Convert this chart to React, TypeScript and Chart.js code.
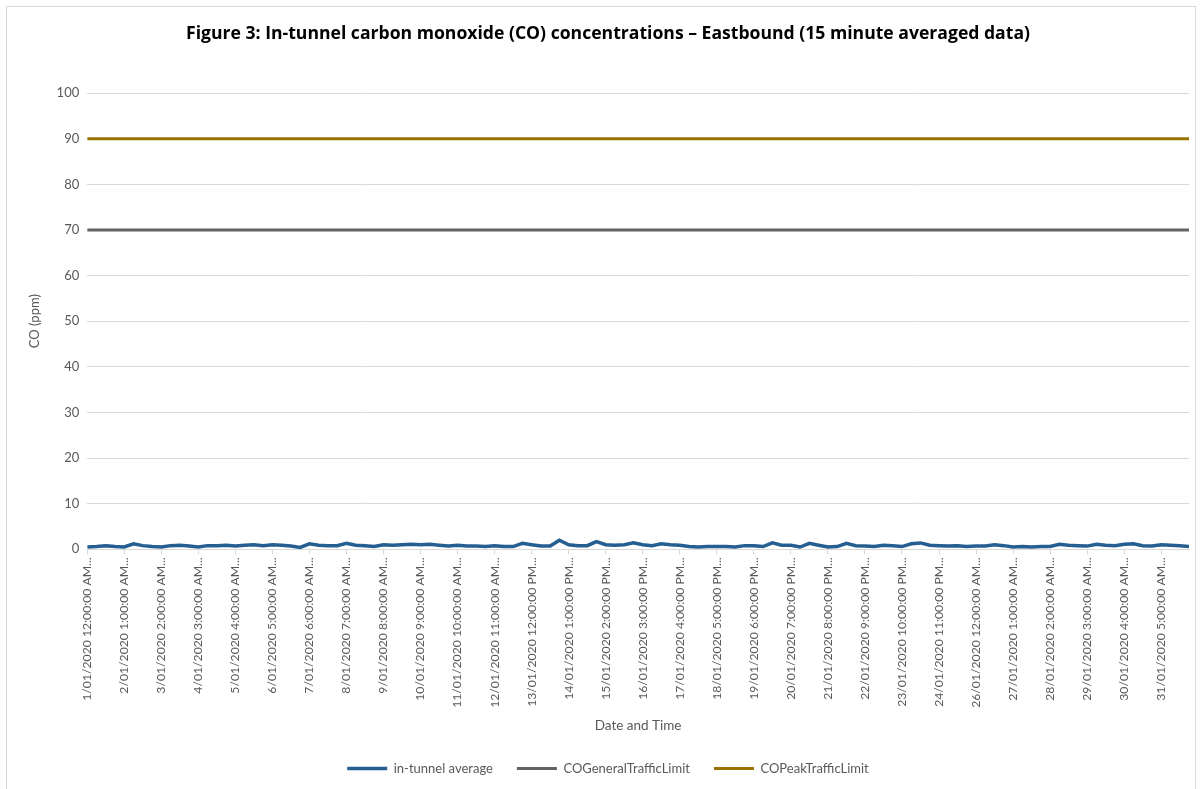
import { useEffect, useRef } from "react";
import { Chart, registerables } from "chart.js";

Chart.register(...registerables);

// Tick labels every 100 quarter-hour readings (25 hours)
const TICK_LABELS = [
  "1/01/2020 12:00:00 AM...",
  "2/01/2020 1:00:00 AM...",
  "3/01/2020 2:00:00 AM...",
  "4/01/2020 3:00:00 AM...",
  "5/01/2020 4:00:00 AM...",
  "6/01/2020 5:00:00 AM...",
  "7/01/2020 6:00:00 AM...",
  "8/01/2020 7:00:00 AM...",
  "9/01/2020 8:00:00 AM...",
  "10/01/2020 9:00:00 AM...",
  "11/01/2020 10:00:00 AM...",
  "12/01/2020 11:00:00 AM...",
  "13/01/2020 12:00:00 PM...",
  "14/01/2020 1:00:00 PM...",
  "15/01/2020 2:00:00 PM...",
  "16/01/2020 3:00:00 PM...",
  "17/01/2020 4:00:00 PM...",
  "18/01/2020 5:00:00 PM...",
  "19/01/2020 6:00:00 PM...",
  "20/01/2020 7:00:00 PM...",
  "21/01/2020 8:00:00 PM...",
  "22/01/2020 9:00:00 PM...",
  "23/01/2020 10:00:00 PM...",
  "24/01/2020 11:00:00 PM...",
  "26/01/2020 12:00:00 AM...",
  "27/01/2020 1:00:00 AM...",
  "28/01/2020 2:00:00 AM...",
  "29/01/2020 3:00:00 AM...",
  "30/01/2020 4:00:00 AM...",
  "31/01/2020 5:00:00 AM...",
];
const TICK_STEP = 100; // readings between labels
const LAST_READING = 2975; // 31 days x 96 readings - 1
const SAMPLE_STEP = 25; // readings between sampled values below

// In-tunnel average CO (ppm), every 25 readings
const IN_TUNNEL_AVERAGE = [
  0.5, 0.6, 0.8, 0.6, 0.5, 1.2, 0.8, 0.6, 0.5, 0.8, 0.9, 0.7, 0.5, 0.8, 0.8, 0.9, 0.7, 0.9, 1.0, 0.8,
  1.0, 0.9, 0.7, 0.4, 1.2, 0.9, 0.8, 0.8, 1.3, 0.9, 0.8, 0.6, 1.0, 0.9, 1.0, 1.1, 1.0, 1.1, 0.9, 0.7,
  0.9, 0.7, 0.7, 0.6, 0.8, 0.6, 0.6, 1.3, 1.0, 0.7, 0.7, 2.0, 1.0, 0.8, 0.8, 1.7, 1.0, 0.9, 1.0, 1.4,
  1.0, 0.8, 1.2, 1.0, 0.9, 0.6, 0.5, 0.6, 0.6, 0.6, 0.5, 0.8, 0.8, 0.6, 1.4, 0.9, 0.9, 0.5, 1.3, 0.9,
  0.5, 0.6, 1.3, 0.8, 0.7, 0.6, 0.9, 0.8, 0.6, 1.2, 1.4, 0.9, 0.8, 0.7, 0.8, 0.6, 0.7, 0.7, 1.0, 0.8,
  0.5, 0.6, 0.5, 0.6, 0.6, 1.1, 0.9, 0.8, 0.7, 1.1, 0.9, 0.8, 1.1, 1.2, 0.8, 0.7, 1.0, 0.9, 0.8, 0.6,
];
const CO_GENERAL_TRAFFIC_LIMIT = 70;
const CO_PEAK_TRAFFIC_LIMIT = 90;

const TITLE = "Figure 3: In-tunnel carbon monoxide (CO) concentrations \u2013 Eastbound (15 minute averaged data)";
const FONT = "Lato, 'Open Sans', sans-serif";

export default function App() {
  const canvasRef = useRef<HTMLCanvasElement | null>(null);

  useEffect(() => {
    if (!canvasRef.current) return;
    const avgPoints = IN_TUNNEL_AVERAGE.map((y, i) => ({
      x: Math.min(i * SAMPLE_STEP, LAST_READING),
      y,
    }));
    const flat = (v: number) => [
      { x: 0, y: v },
      { x: LAST_READING, y: v },
    ];

    const chart = new Chart(canvasRef.current, {
      type: "line",
      data: {
        datasets: [
          {
            label: "in-tunnel average",
            data: avgPoints,
            borderColor: "#255E91",
            backgroundColor: "#255E91",
            borderWidth: 3.5,
            pointRadius: 0,
            tension: 0,
          },
          {
            label: "COGeneralTrafficLimit",
            data: flat(CO_GENERAL_TRAFFIC_LIMIT),
            borderColor: "#636363",
            backgroundColor: "#636363",
            borderWidth: 3,
            pointRadius: 0,
          },
          {
            label: "COPeakTrafficLimit",
            data: flat(CO_PEAK_TRAFFIC_LIMIT),
            borderColor: "#997300",
            backgroundColor: "#997300",
            borderWidth: 3,
            pointRadius: 0,
          },
        ],
      },
      options: {
        animation: false,
        responsive: true,
        maintainAspectRatio: false,
        layout: { padding: { left: 27, right: 14, top: 14, bottom: 4 } },
        scales: {
          x: {
            type: "linear",
            min: 0,
            max: LAST_READING,
            afterBuildTicks: (axis: any) => {
              axis.ticks = TICK_LABELS.map((_, i) => ({ value: i * TICK_STEP }));
            },
            ticks: {
              autoSkip: false,
              minRotation: 90,
              maxRotation: 90,
              color: "#595959",
              font: { family: FONT, size: 12.2 },
              padding: 3,
              callback: (v: any) => TICK_LABELS[Math.round(Number(v) / TICK_STEP)] ?? "",
            },
            grid: {
              drawOnChartArea: false,
              drawTicks: true,
              tickLength: 5,
              color: "#d9d9d9",
            },
            border: { color: "#d9d9d9", width: 1 },
            title: {
              display: true,
              text: "Date and Time",
              color: "#595959",
              font: { family: FONT, size: 13.5 },
              padding: { top: 7, bottom: 4 },
            },
          },
          y: {
            min: 0,
            max: 100,
            ticks: {
              stepSize: 10,
              color: "#595959",
              font: { family: FONT, size: 13 },
              padding: 8,
            },
            grid: { color: "#d9d9d9", drawTicks: false },
            border: { display: false },
            title: {
              display: true,
              text: "CO (ppm)",
              color: "#595959",
              font: { family: FONT, size: 13 },
              padding: { top: 0, bottom: 6 },
            },
          },
        },
        plugins: {
          title: {
            display: true,
            text: TITLE,
            color: "#000000",
            font: { family: "'Open Sans', sans-serif", size: 17.6, weight: "bold" },
            padding: { top: 9, bottom: 49 },
          },
          legend: {
            position: "bottom",
            labels: {
              usePointStyle: true,
              pointStyle: "line",
              pointStyleWidth: 40,
              boxHeight: 12,
              padding: 24,
              color: "#595959",
              font: { family: FONT, size: 13 },
            },
          },
          tooltip: { enabled: false },
        },
      },
    } as any);

    return () => chart.destroy();
  }, []);

  return (
    <div style={{ position: "fixed", left: 0, top: 0, width: 1203, height: 789, background: "#ffffff" }}>
      <div
        style={{
          position: "absolute",
          left: 6,
          top: 6,
          width: 1190,
          height: 800,
          border: "1px solid #d9d9d9",
          boxSizing: "border-box",
        }}
      />
      <div style={{ position: "absolute", left: 0, top: 0, width: 1203, height: 789 }}>
        <canvas ref={canvasRef} />
      </div>
    </div>
  );
}
